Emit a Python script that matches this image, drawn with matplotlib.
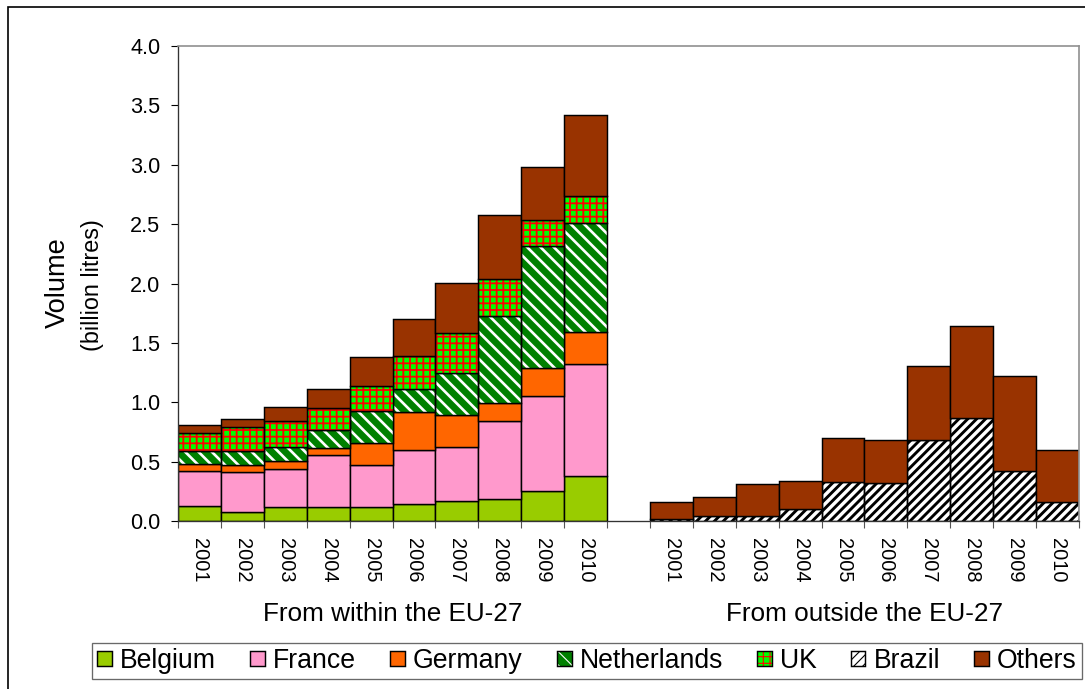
import numpy as np
import matplotlib.pyplot as plt
import matplotlib.patches as mpatches
from matplotlib.legend_handler import HandlerTuple

plt.rcParams["font.family"] = ["Liberation Sans", "DejaVu Sans"]

years = ["2001", "2002", "2003", "2004", "2005", "2006", "2007", "2008", "2009", "2010"]
group_labels = ["From within the EU-27", "From outside the EU-27"]

# imports from within the EU-27 (billion litres)
belgium = [0.13, 0.08, 0.115, 0.115, 0.115, 0.14, 0.17, 0.185, 0.255, 0.375]
france = [0.29, 0.33, 0.32, 0.445, 0.36, 0.455, 0.45, 0.655, 0.80, 0.945]
germany = [0.06, 0.06, 0.07, 0.055, 0.185, 0.325, 0.275, 0.155, 0.23, 0.275]
netherlands = [0.11, 0.12, 0.115, 0.155, 0.265, 0.195, 0.35, 0.73, 1.03, 0.915]
uk = [0.15, 0.20, 0.22, 0.185, 0.21, 0.275, 0.335, 0.315, 0.22, 0.23]
others_in = [0.07, 0.065, 0.12, 0.16, 0.245, 0.31, 0.425, 0.54, 0.45, 0.68]

# imports from outside the EU-27
brazil = [0.015, 0.04, 0.04, 0.10, 0.33, 0.32, 0.68, 0.87, 0.42, 0.16]
others_out = [0.145, 0.16, 0.27, 0.235, 0.37, 0.36, 0.625, 0.77, 0.80, 0.44]

# name: (face, hatch, hatch colour, hatch width)
styles = {
    "Belgium": ("#99CC00", None, None, None),
    "France": ("#FF99CC", None, None, None),
    "Germany": ("#FF6600", None, None, None),
    "Netherlands": ("#008000", "\\\\", "white", 2.4),
    "UK": ("#00FF00", "++", "#FF0000", 1.6),
    "Brazil": ("white", "///", "black", 2.6),
    "Others": ("#993300", None, None, None),
}

DPI = 80
fig = plt.figure(figsize=(1085 / DPI, 689 / DPI), dpi=DPI)
ax = fig.add_axes([178 / 1085, 1 - 521 / 689, 901 / 1085, 475 / 689])


def hatched_patch(p, hlw):
    if hasattr(p, "set_hatch_linewidth"):
        p.set_hatch_linewidth(hlw)
    return p


def stack(x, values, bottom, name):
    face, hatch, hcol, hlw = styles[name]
    if hatch:
        with plt.rc_context({"hatch.linewidth": hlw}):
            bars = ax.bar(x, values, 1.0, bottom=bottom, facecolor=face,
                          edgecolor=hcol, linewidth=0, hatch=hatch)
        for b in bars:
            hatched_patch(b, hlw)
        face = "none"
    ax.bar(x, values, 1.0, bottom=bottom, facecolor=face,
           edgecolor="black", linewidth=1.3)
    return bottom + np.array(values)


x_in = np.arange(10)
x_out = np.arange(11, 21)

bottom = np.zeros(10)
for name, vals in [("Belgium", belgium), ("France", france), ("Germany", germany),
                   ("Netherlands", netherlands), ("UK", uk), ("Others", others_in)]:
    bottom = stack(x_in, vals, bottom, name)

bottom = np.zeros(10)
for name, vals in [("Brazil", brazil), ("Others", others_out)]:
    bottom = stack(x_out, vals, bottom, name)

ax.set_xlim(-0.5, 20.5)
ax.set_ylim(0, 4)
ax.set_yticks(np.arange(0, 4.01, 0.5))
ax.set_yticklabels([f"{v:.1f}" for v in np.arange(0, 4.01, 0.5)], fontsize=19.5)
ax.tick_params(axis="y", direction="out", length=6, width=1, pad=10)

ax.set_xticks(list(np.arange(-0.5, 10, 1)) + list(np.arange(10.5, 21, 1)))
ax.set_xticklabels([])
ax.tick_params(axis="x", which="major", direction="out", length=6, width=1, color="#555555")
ax.set_xticks(list(x_in) + list(x_out), minor=True)
ax.set_xticklabels(years + years, minor=True, rotation=270, fontsize=18, va="top")
ax.tick_params(axis="x", which="minor", length=0, pad=15)

for s in ["top", "right"]:
    ax.spines[s].set_color("#909090")
    ax.spines[s].set_linewidth(1.5)
for s in ["left", "bottom"]:
    ax.spines[s].set_color("#333333")
    ax.spines[s].set_linewidth(1.2)

tr = ax.get_xaxis_transform()
ax.text(4.5, -0.2105, group_labels[0], transform=tr, ha="center", va="baseline", fontsize=23.5)
ax.text(15.5, -0.2105, group_labels[1], transform=tr, ha="center", va="baseline", fontsize=23.5)

fig.text(58 / 1085, 1 - 283 / 689, "Volume", rotation=90, ha="center", va="center", fontsize=24.5)
fig.text(92 / 1085, 1 - 285 / 689, "(billion litres)", rotation=90, ha="center", va="center", fontsize=21)

# legend
handles = []
labels = []
for name in ["Belgium", "France", "Germany", "Netherlands", "UK", "Brazil", "Others"]:
    face, hatch, hcol, hlw = styles[name]
    if hatch:
        with plt.rc_context({"hatch.linewidth": hlw}):
            p1 = hatched_patch(mpatches.Patch(facecolor=face, edgecolor=hcol,
                                              linewidth=0, hatch=hatch), hlw)
        p2 = mpatches.Patch(facecolor="none", edgecolor="black", linewidth=1.3)
        handles.append((p1, p2))
    else:
        handles.append(mpatches.Patch(facecolor=face, edgecolor="black", linewidth=1.3))
    labels.append(name)

leg = fig.legend(handles, labels, ncol=7, loc="center", mode="expand",
                 bbox_to_anchor=(92 / 1085, 1 - 683 / 689, 990 / 1085, 44 / 689),
                 fontsize=24, frameon=True, fancybox=False, borderaxespad=0,
                 handlelength=0.55, handleheight=0.5, handletextpad=0.3,
                 columnspacing=0.8, borderpad=0.2,
                 handler_map={tuple: HandlerTuple(ndivide=1)})
leg.get_frame().set_edgecolor("#444444")
leg.get_frame().set_linewidth(1.2)

# outer chart border
fig.patches.append(mpatches.Rectangle((8 / 1085, -0.05), 1.2, 1.05 - 7 / 689,
                                      transform=fig.transFigure, fill=False,
                                      edgecolor="black", linewidth=1.5))

fig.savefig("out.png", dpi=DPI)
